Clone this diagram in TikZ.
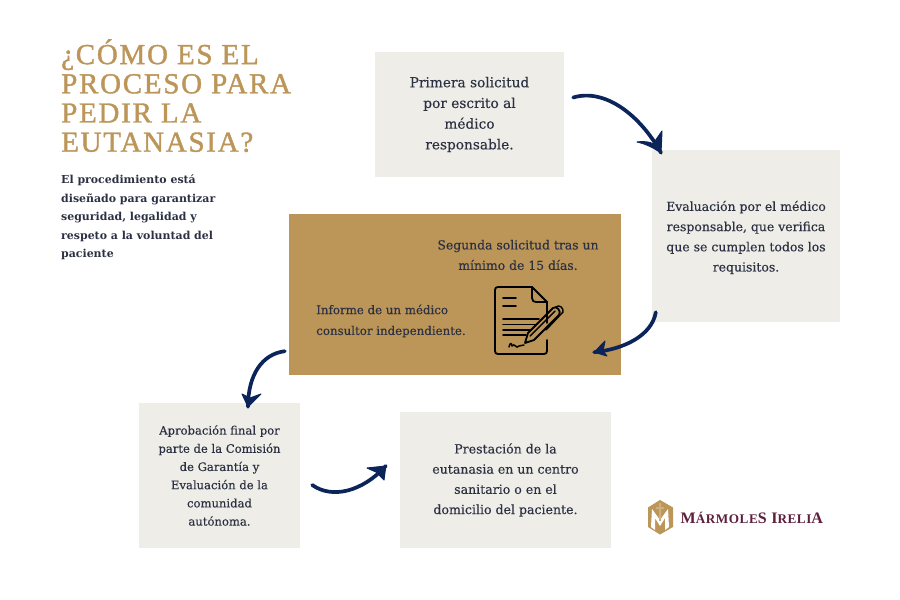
\documentclass[tikz,border=0pt]{standalone}
\usepackage{fontspec}
\setmainfont{DejaVu Serif}
\newfontfamily\titlef[LetterSpace=6,FakeBold=1.3]{Liberation Serif}
\newfontfamily\bodyf[FakeBold=0.25]{DejaVu Serif}
\newfontfamily\subf{DejaVu Serif Bold}
\newfontfamily\logof[LetterSpace=4]{Liberation Serif Bold}
\definecolor{gold}{HTML}{BC9558}
\definecolor{paper}{HTML}{EEEDE7}
\definecolor{inkc}{HTML}{2B3142}
\definecolor{navy}{HTML}{0B2459}
\definecolor{maroon}{HTML}{5E1F3C}
\tikzset{
  x=1pt,y=-1pt,
  panel/.style={fill=paper,draw=none,inner sep=0pt,align=center,text=inkc},
  flow/.style={draw=navy,line width=3.7pt,line cap=round,line join=round},
  barb/.style={fill=navy,draw=navy,line width=1pt,line join=round},
  icon/.style={draw=black,line width=1.8pt,line join=round,line cap=round},
}
\begin{document}
\begin{tikzpicture}
\useasboundingbox (0,0) rectangle (900,600);
\fill[white] (0,0) rectangle (900,600);
% title
\node[anchor=north west,inner sep=0pt,align=left,text=gold,font={\fontsize{29}{29.2}\titlef}] (title) at (61,39)
 {¿CÓMO ES EL\\PROCESO PARA\\PEDIR LA\\EUTANASIA?};
\node[anchor=north west,inner sep=0pt,align=left,text=inkc,font={\fontsize{10.95}{18.5}\subf}] (intro) at (61,175)
 {El procedimiento está\\diseñado para garantizar\\seguridad, legalidad y\\respeto a la voluntad del\\paciente};
% panels
\node[panel,minimum width=189pt,minimum height=125pt,font={\fontsize{13.7}{20.7}\bodyf}] (p1) at (469.5,114.5)
 {Primera solicitud\\por escrito al\\médico\\responsable.};
\node[panel,minimum width=188pt,minimum height=172pt] (p2) at (746,236) {};
\node[inner sep=0pt,align=center,text=inkc,font={\fontsize{12.45}{20.2}\bodyf}] (t3) at (746,237.5)
 {Evaluación por el médico\\responsable, que verifica\\que se cumplen todos los\\requisitos.};
\node[fill=gold,inner sep=0pt,minimum width=332pt,minimum height=161pt] (p3) at (455,294.5) {};
\node[inner sep=0pt,align=center,text=inkc,font={\fontsize{12.4}{20.4}\bodyf}] (t1) at (518,255)
 {Segunda solicitud tras un\\mínimo de 15 días.};
\node[inner sep=0pt,align=left,text=inkc,font={\fontsize{11.8}{20.8}\bodyf}] (t2) at (391,321)
 {Informe de un médico\\consultor independiente.};
\node[panel,minimum width=161pt,minimum height=145pt,font={\fontsize{11.6}{18.2}\bodyf}] (p4) at (219.5,475.5)
 {Aprobación final por\\parte de la Comisión\\de Garantía y\\Evaluación de la\\comunidad\\autónoma.};
\node[panel,minimum width=211pt,minimum height=136pt,font={\fontsize{12.55}{20.2}\bodyf}] (p5) at (505.5,480)
 {Prestación de la\\eutanasia en un centro\\sanitario o en el\\domicilio del paciente.};
% connector ends
\coordinate (a1) at ([xshift=9pt,yshift=17pt]p1.east);
\coordinate (b1) at ([xshift=-85pt,yshift=-3pt]p2.north);
\coordinate (a2) at ([xshift=4pt,yshift=10pt]p2.south west);
\coordinate (b2) at ([xshift=-27pt,yshift=23pt]p3.south east);
\coordinate (a3) at ([xshift=-4pt,yshift=24pt]p3.south west);
\coordinate (b3) at ([xshift=28.5pt,yshift=-4pt]p4.north);
\coordinate (a4) at ([xshift=12pt,yshift=-9.5pt]p4.east);
\coordinate (b4) at ([xshift=-14pt,yshift=14pt]p5.west);
\draw[flow] (a1) .. controls (605,88) and (640,115) .. (b1);
\draw[barb] (637,142) .. controls (645,141) and (650,142) .. (653,144) -- (662,131) -- (b1) .. controls (655,149) and (647,144) .. cycle;
\draw[flow] (a2) .. controls (652,335) and (625,349) .. (b2);
\draw[barb] (605,341) -- (603,351) -- (607,356) -- (b2) -- cycle;
\draw[flow] (a3) .. controls (262,354) and (248,375) .. (b3);
\draw[barb] (242,394) -- (250,398) -- (261,394) -- (b3) -- cycle;
\draw[flow] (a4) .. controls (332,499) and (362,492) .. (b4);
\draw[barb] (367,468) -- (376,472) -- (384,480) -- (b4) -- cycle;
% document icon
\draw[icon] (547,340) -- (547,351) .. controls (547,353) and (546,354) .. (544,354) -- (498,354) .. controls (496,354) and (495,353) .. (495,351) -- (495,290) .. controls (495,288) and (496,287) .. (498,287) -- (532,287) -- (547,302) -- (547,323);
\draw[icon] (532,287) -- (532,298) .. controls (532,301) and (534,302) .. (536,302) -- (547,302);
\draw[icon] (503,298) -- (516,298) (503,306) -- (516,306);
\draw[icon] (503,319) -- (539,319) (503,324.5) -- (536,324.5) (503,330) -- (531,330) (503,335) -- (526,335);
\draw[icon,line width=1.5pt] (509,347) .. controls (510,342) and (512,343) .. (512,346) .. controls (515,342) and (516,350) .. (519,346) -- (524,345);
\draw[icon] (525,343) -- (528,333) -- (553,308) .. controls (556,305) and (562,311) .. (559,315) -- (534,340) -- cycle;
\draw[icon,line width=1.4pt] (530,336) -- (555,311) (556,307) .. controls (559,304) and (564,308) .. (563,312) -- (546,330);
% logo
\fill[gold] (660,500) -- (673,507.5) -- (673,527) -- (660,534.5) -- (648,527) -- (648,507.5) -- cycle;
\fill[white] (652,509) -- (660,520) -- (668,509) -- (669,527) -- (665,530) -- (665,518) -- (660,526) -- (655,518) -- (655,530) -- (651,527) -- cycle;
\fill[gold!75!white] (659,503) rectangle (661,521) (656,507) rectangle (664,509);
\node[anchor=west,inner sep=0pt,text=maroon] (logo) at (680.5,517.5)
 {\logof\fontsize{16}{15}\selectfont M\fontsize{13.2}{15}\selectfont ÁRMOLE\fontsize{16}{15}\selectfont S I\fontsize{13.2}{15}\selectfont RELI\fontsize{16}{15}\selectfont A};
\end{tikzpicture}
\end{document}
